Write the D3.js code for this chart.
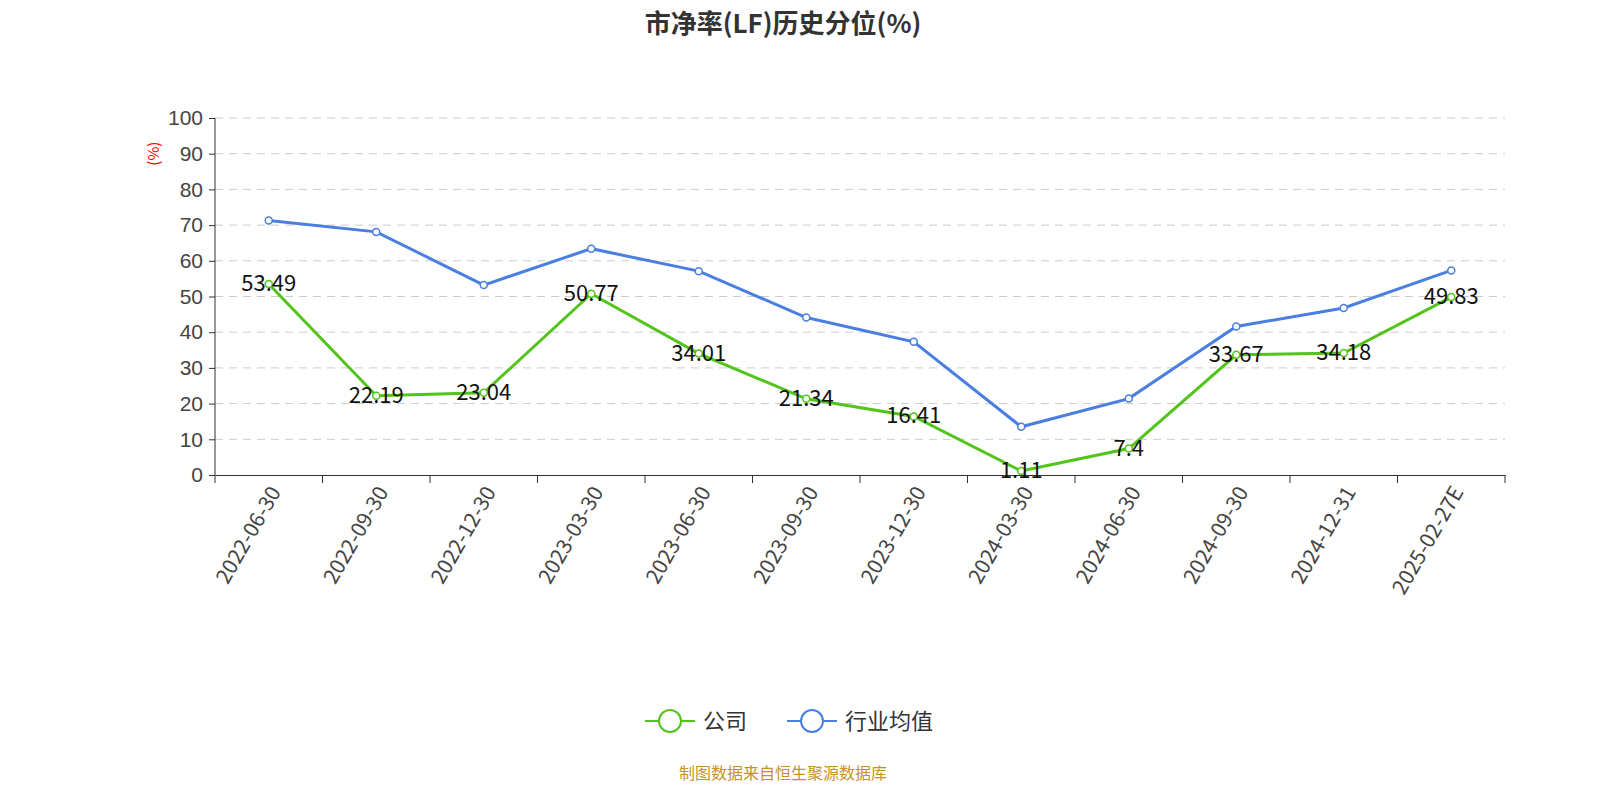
<!DOCTYPE html>
<html><head><meta charset="utf-8">
<script src="https://cdn.jsdelivr.net/npm/d3@7"></script>
<style>html,body{margin:0;background:#fff;overflow:hidden;font-family:"Noto Sans CJK SC","Noto Sans",sans-serif;}svg{display:block;}</style>
</head><body><div id="chart"></div>
<script>
const categories = ["2022-06-30","2022-09-30","2022-12-30","2023-03-30","2023-06-30","2023-09-30","2023-12-30","2024-03-30","2024-06-30","2024-09-30","2024-12-31","2025-02-27E"];
const company = [53.49,22.19,23.04,50.77,34.01,21.34,16.41,1.11,7.4,33.67,34.18,49.83];
const industry = [71.3,68.1,53.2,63.4,57.1,44.1,37.3,13.5,21.4,41.6,46.8,57.3];
const yTicks = [0,10,20,30,40,50,60,70,80,90,100];

const width = 1600, height = 800;
const margin = { top: 118, right: 95, bottom: 325, left: 215 };
const svg = d3.select("#chart").append("svg").attr("width", width).attr("height", height);

const x = d3.scaleBand().domain(categories).range([margin.left, width - margin.right]);
const y = d3.scaleLinear().domain([0, 100]).range([height - margin.bottom, margin.top]);

svg.append("text").attr("x", width / 2 - 17).attr("y", 33).attr("text-anchor", "middle")
    .attr("font-size", 26).attr("font-weight", "bold").attr("fill", "#333").text("市净率(LF)历史分位(%)");

// grid
svg.selectAll(".grid").data(yTicks.slice(1)).join("line")
    .attr("x1", margin.left).attr("x2", width - margin.right)
    .attr("y1", d => y(d)).attr("y2", d => y(d))
    .attr("stroke", "#ccc").attr("stroke-dasharray", "8,6");

const yAxis = svg.append("g").attr("transform", `translate(${margin.left},0)`)
    .call(d3.axisLeft(y).tickValues(yTicks).tickSize(6).tickPadding(6));
yAxis.selectAll("text").attr("font-size", 21).attr("fill", "#444");
yAxis.selectAll("line,path").attr("stroke", "#333");
yAxis.select(".domain").attr("d", `M0,${y(100)}V${y(0)}`);

svg.append("text").attr("transform", `translate(159,${y(90)}) rotate(-90)`)
    .attr("text-anchor", "middle").attr("font-size", 15).attr("fill", "red").text("(%)");

const xAxis = svg.append("g").attr("transform", `translate(0,${y(0)})`)
    .call(d3.axisBottom(x).tickSize(0).tickPadding(0));
xAxis.select(".domain").attr("stroke", "#333");
xAxis.selectAll("text").remove();
svg.append("g").selectAll("line").data(d3.range(categories.length + 1)).join("line")
    .attr("x1", i => margin.left + i * x.step()).attr("x2", i => margin.left + i * x.step())
    .attr("y1", y(0)).attr("y2", y(0) + 8).attr("stroke", "#333");
svg.append("g").selectAll("text").data(categories).join("text")
    .attr("transform", d => `translate(${x(d) + x.bandwidth() / 2 + 8},${y(0) + 14}) rotate(-60)`)
    .attr("text-anchor", "end").attr("dominant-baseline", "middle")
    .attr("font-size", 21).attr("fill", "#444").text(d => d);

const cx = d => x(d) + x.bandwidth() / 2;
const line = d3.line().x((d, i) => cx(categories[i])).y(d => y(d));

function series(data, color) {
    svg.append("path").datum(data).attr("d", line).attr("fill", "none")
        .attr("stroke", color).attr("stroke-width", 3);
    svg.append("g").selectAll("circle").data(data).join("circle")
        .attr("cx", (d, i) => cx(categories[i])).attr("cy", d => y(d)).attr("r", 3.5)
        .attr("fill", "#fff").attr("stroke", color).attr("stroke-width", 1.5);
}
series(industry, "#4a7ee0");
series(company, "#52c41a");

svg.append("g").selectAll("text").data(company).join("text")
    .attr("x", (d, i) => cx(categories[i])).attr("y", d => y(d) + 7)
    .attr("text-anchor", "middle").attr("font-size", 22).attr("fill", "#111").text(d => d);

// legend
const legend = [["公司", "#52c41a", 645], ["行业均值", "#4a7ee0", 787]];
legend.forEach(([name, color, lx]) => {
    const g = svg.append("g");
    g.append("line").attr("x1", lx).attr("x2", lx + 50).attr("y1", 721).attr("y2", 721).attr("stroke", color).attr("stroke-width", 2);
    g.append("circle").attr("cx", lx + 25).attr("cy", 721).attr("r", 11).attr("fill", "#fff").attr("stroke", color).attr("stroke-width", 2);
    g.append("text").attr("x", lx + 58).attr("y", 729).attr("font-size", 22).attr("fill", "#333").text(name);
});

svg.append("text").attr("x", width / 2 - 17).attr("y", 779).attr("text-anchor", "middle")
    .attr("font-size", 16).attr("fill", "#c8902a").text("制图数据来自恒生聚源数据库");
</script></body></html>
